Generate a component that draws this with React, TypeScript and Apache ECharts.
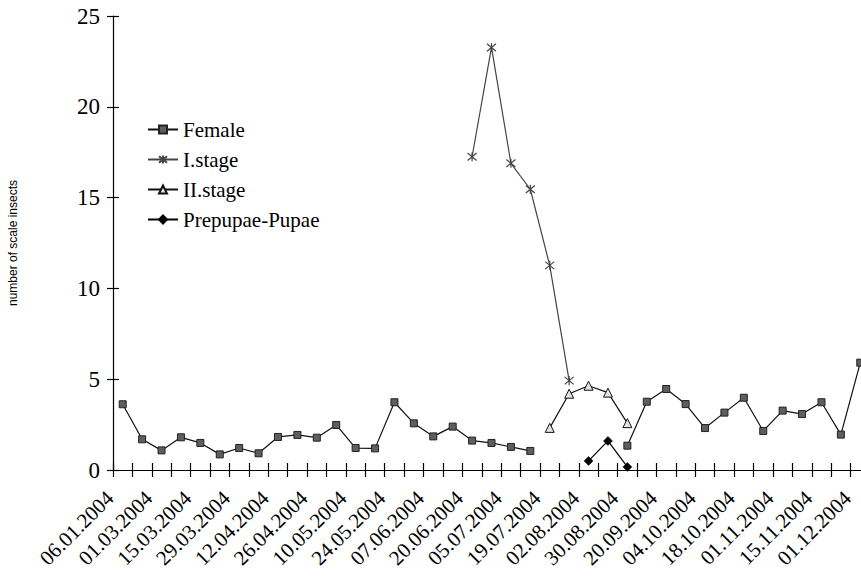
import React, { useEffect, useRef } from "react";
import * as echarts from "echarts";

const categories = [
  "06.01.2004", "02.02.2004", "01.03.2004", "08.03.2004", "15.03.2004", "22.03.2004",
  "29.03.2004", "05.04.2004", "12.04.2004", "19.04.2004", "26.04.2004", "03.05.2004",
  "10.05.2004", "17.05.2004", "24.05.2004", "31.05.2004", "07.06.2004", "14.06.2004",
  "20.06.2004", "28.06.2004", "05.07.2004", "12.07.2004", "19.07.2004", "26.07.2004",
  "02.08.2004", "16.08.2004", "30.08.2004", "06.09.2004", "20.09.2004", "27.09.2004",
  "04.10.2004", "11.10.2004", "18.10.2004", "25.10.2004", "01.11.2004", "08.11.2004",
  "15.11.2004", "22.11.2004", "01.12.2004",
];

const female = [
  3.62, 1.69, 1.08, 1.8, 1.49, 0.86, 1.21, 0.92, 1.82, 1.93, 1.78, 2.48, 1.21, 1.19,
  3.73, 2.57, 1.85, 2.39, 1.62, 1.49, 1.27, 1.05, null, null, null, null, 1.34, 3.76,
  4.46, 3.63, 2.31, 3.16, 3.98, 2.15, 3.27, 3.08, 3.73, 1.95, 5.91,
];

const stage1 = [
  null, null, null, null, null, null, null, null, null, null, null, null, null, null,
  null, null, null, null, 17.25, 23.27, 16.89, 15.46, 11.27, 4.92, null, null, null,
  null, null, null, null, null, null, null, null, null, null, null, null,
];

const stage2 = [
  null, null, null, null, null, null, null, null, null, null, null, null, null, null,
  null, null, null, null, null, null, null, null, 2.32, 4.2, 4.64, 4.26, 2.58, null,
  null, null, null, null, null, null, null, null, null, null, null,
];

const pupae = [
  null, null, null, null, null, null, null, null, null, null, null, null, null, null,
  null, null, null, null, null, null, null, null, null, null, 0.5, 1.6, 0.17, null,
  null, null, null, null, null, null, null, null, null, null, null,
];

const yTicks = { min: 0, max: 25, interval: 5 };

const SERIF = "Liberation Serif";
const ASTERISK = "path://M0,0L10,10M10,0L0,10M5,-1L5,11";

export default function App() {
  const ref = useRef<HTMLDivElement>(null);

  useEffect(() => {
    if (!ref.current) return;
    const chart = echarts.init(ref.current, undefined, { renderer: "svg" });
    chart.setOption({
      animation: false,
      backgroundColor: "#ffffff",
      grid: {
        left: 113,
        top: 16,
        width: 757,
        height: 454,
        containLabel: false,
        outerBoundsMode: "none",
      },
      legend: {
        orient: "vertical",
        left: 142,
        top: 114,
        itemWidth: 30,
        itemHeight: 10,
        itemGap: 9,
        textStyle: { fontFamily: SERIF, fontSize: 21, color: "#000" },
        data: ["Female", "I.stage", "II.stage", "Prepupae-Pupae"],
      },
      xAxis: [
        {
          type: "category",
          data: categories,
          boundaryGap: true,
          axisLine: { show: true, lineStyle: { color: "#000", width: 1.2 } },
          axisTick: { show: true, interval: 0, length: 7, lineStyle: { color: "#000", width: 1.2 } },
          axisLabel: {
            interval: 1,
            rotate: 45,
            margin: 12,
            padding: [0, 18, 0, 0],
            fontFamily: SERIF,
            fontSize: 21,
            color: "#000",
          },
          splitLine: { show: false },
        },
        {
          type: "category",
          data: categories,
          boundaryGap: true,
          position: "bottom",
          axisLine: { show: false },
          axisTick: { show: true, inside: true, interval: 0, length: 7, lineStyle: { color: "#000", width: 1.2 } },
          axisLabel: { show: false },
          splitLine: { show: false },
        },
      ],
      yAxis: [
        {
          type: "value",
          min: yTicks.min,
          max: yTicks.max,
          interval: yTicks.interval,
          name: "number of scale insects",
          nameLocation: "middle",
          nameGap: 94,
          nameTextStyle: {
            fontFamily: "Liberation Sans",
            fontSize: 12,
            color: "#000",
          },
          axisLine: { show: true, lineStyle: { color: "#000", width: 1.2 } },
          axisTick: { show: true, length: 6, lineStyle: { color: "#000", width: 1.2 } },
          axisLabel: { margin: 13, fontFamily: SERIF, fontSize: 23, color: "#000" },
          splitLine: { show: false },
        },
        {
          type: "value",
          min: yTicks.min,
          max: yTicks.max,
          interval: yTicks.interval,
          position: "left",
          axisLine: { show: false },
          axisTick: { show: true, inside: true, length: 6, lineStyle: { color: "#000", width: 1.2 } },
          axisLabel: { show: false },
          splitLine: { show: false },
        },
      ],
      series: [
        {
          name: "Female",
          type: "line",
          data: female,
          connectNulls: false,
          symbol: "rect",
          symbolSize: 7,
          lineStyle: { color: "#111", width: 1.2 },
          itemStyle: { color: "#5e5e5e", borderColor: "#222", borderWidth: 1 },
        },
        {
          name: "I.stage",
          type: "line",
          data: stage1,
          connectNulls: false,
          symbol: ASTERISK,
          symbolSize: 9,
          lineStyle: { color: "#444", width: 1.2 },
          itemStyle: { color: "none", borderColor: "#444", borderWidth: 1.2 },
        },
        {
          name: "II.stage",
          type: "line",
          data: stage2,
          connectNulls: false,
          symbol: "triangle",
          symbolSize: 9,
          lineStyle: { color: "#111", width: 1.2 },
          itemStyle: { color: "#e4e4e4", borderColor: "#111", borderWidth: 1 },
        },
        {
          name: "Prepupae-Pupae",
          type: "line",
          data: pupae,
          connectNulls: false,
          symbol: "diamond",
          symbolSize: 9,
          lineStyle: { color: "#000", width: 1.2 },
          itemStyle: { color: "#000", borderColor: "#000", borderWidth: 0.5 },
        },
      ],
    });
    return () => chart.dispose();
  }, []);

  return (
    <div
      ref={ref}
      style={{ position: "fixed", left: 0, top: 0, width: 861, height: 580, background: "#fff" }}
    />
  );
}
